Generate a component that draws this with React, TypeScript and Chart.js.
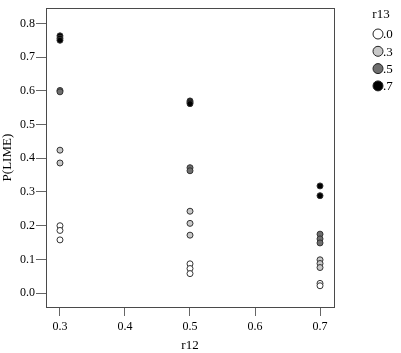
import React, { useEffect, useRef } from "react";
import { Chart, registerables } from "chart.js";

Chart.register(...registerables);

const r13Labels = [".0", ".3", ".5", ".7"];
const r13Colors = ["#ffffff", "#c8c8c8", "#6e6e6e", "#000000"];

const r12At0 = [0.3, 0.3, 0.3, 0.5, 0.5, 0.5, 0.7, 0.7];
const pAt0 = [0.2, 0.186, 0.158, 0.087, 0.073, 0.058, 0.029, 0.022];

const r12At3 = [0.3, 0.3, 0.5, 0.5, 0.5, 0.7, 0.7, 0.7];
const pAt3 = [0.424, 0.386, 0.243, 0.207, 0.172, 0.099, 0.088, 0.076];

const r12At5 = [0.3, 0.3, 0.5, 0.5, 0.7, 0.7, 0.7];
const pAt5 = [0.601, 0.597, 0.372, 0.363, 0.175, 0.161, 0.149];

const r12At7 = [0.3, 0.3, 0.3, 0.5, 0.5, 0.5, 0.7, 0.7];
const pAt7 = [0.763, 0.756, 0.75, 0.57, 0.566, 0.562, 0.318, 0.289];

const xTicks = [0.3, 0.4, 0.5, 0.6, 0.7];
const yTicks = [0.0, 0.1, 0.2, 0.3, 0.4, 0.5, 0.6, 0.7, 0.8];

const FONT = "'Liberation Serif'";

function pts(xs: number[], ys: number[]) {
  return xs.map((x, i) => ({ x, y: ys[i] }));
}

const boxPlugin = {
  id: "boxPlugin",
  afterDraw(chart: any) {
    const { ctx, chartArea } = chart;
    ctx.save();
    ctx.strokeStyle = "#4a4a4a";
    ctx.lineWidth = 1;
    ctx.strokeRect(
      Math.round(chartArea.left) + 0.5,
      Math.round(chartArea.top) + 0.5,
      Math.round(chartArea.right - chartArea.left),
      Math.round(chartArea.bottom - chartArea.top)
    );
    ctx.fillStyle = "#000";
    ctx.font = "13px " + FONT;
    ctx.textAlign = "center";
    ctx.textBaseline = "middle";
    ctx.fillText("r13", 381, 15);
    chart.data.datasets.forEach((ds: any, i: number) => {
      const cy = 34 + i * 17.3;
      ctx.beginPath();
      ctx.arc(378, cy, 5, 0, Math.PI * 2);
      ctx.fillStyle = ds.backgroundColor;
      ctx.fill();
      ctx.strokeStyle = "#222";
      ctx.lineWidth = 1;
      ctx.stroke();
      ctx.fillStyle = "#000";
      ctx.textAlign = "left";
      ctx.fillText(ds.label, 383, cy + 1);
    });
    ctx.restore();
  },
};

export default function App() {
  const ref = useRef<HTMLCanvasElement>(null);
  useEffect(() => {
    if (!ref.current) return;
    let chart: any = null;
    let cancelled = false;
    const build = () => {
      if (cancelled || !ref.current) return;
      const series = [
        pts(r12At0, pAt0),
        pts(r12At3, pAt3),
        pts(r12At5, pAt5),
        pts(r12At7, pAt7),
      ];
      chart = new Chart(ref.current, {
        type: "scatter",
        data: {
          datasets: series.map((d, i) => ({
            label: r13Labels[i],
            data: d,
            backgroundColor: r13Colors[i],
            borderColor: "#333",
            borderWidth: 1,
            pointRadius: 3,
          })),
        },
        plugins: [boxPlugin],
        options: {
          animation: false,
          responsive: false,
          layout: { padding: { top: 4, right: 67, left: 0, bottom: 0 } },
          plugins: { legend: { display: false }, tooltip: { enabled: false } },
          scales: {
            x: {
              type: "linear",
              min: 0.2785,
              max: 0.7215,
              afterBuildTicks: (s: any) => {
                s.ticks = xTicks.map((v) => ({ value: v }));
              },
              afterFit: (s: any) => {
                s.height = 46;
              },
              grid: {
                drawOnChartArea: false,
                tickLength: 9,
                color: "#666",
                tickColor: "#666",
              },
              border: { color: "#4a4a4a" },
              ticks: {
                color: "#000",
                font: { family: FONT, size: 12 },
                padding: 4,
                callback: (v: any) => Number(v).toFixed(1),
              },
              title: {
                display: true,
                text: "r12",
                color: "#000",
                font: { family: FONT, size: 13 },
                padding: { top: 0, bottom: 0 },
              },
            },
            y: {
              type: "linear",
              min: -0.041,
              max: 0.845,
              afterBuildTicks: (s: any) => {
                s.ticks = yTicks.map((v) => ({ value: v }));
              },
              afterFit: (s: any) => {
                s.width = 46;
              },
              grid: {
                drawOnChartArea: false,
                tickLength: 10,
                color: "#666",
                tickColor: "#666",
              },
              border: { color: "#4a4a4a" },
              ticks: {
                color: "#000",
                font: { family: FONT, size: 12 },
                padding: 1,
                callback: (v: any) => Number(v).toFixed(1),
              },
              title: {
                display: true,
                text: "P(LIME)",
                color: "#000",
                font: { family: FONT, size: 13 },
                padding: { top: 0, bottom: 0 },
              },
            },
          },
        },
      } as any);
    };
    const fonts: any = (document as any).fonts;
    if (fonts && fonts.load) {
      fonts.load("12px 'Liberation Serif'").then(build, build);
    } else {
      build();
    }
    return () => {
      cancelled = true;
      if (chart) chart.destroy();
    };
  }, []);
  return (
    <div style={{ position: "absolute", left: 0, top: 0, width: 401, height: 353, background: "#fff" }}>
      <span style={{ position: "absolute", left: -1000, fontFamily: "'Liberation Serif'" }}>.</span>
      <canvas ref={ref} width={401} height={353} />
    </div>
  );
}
